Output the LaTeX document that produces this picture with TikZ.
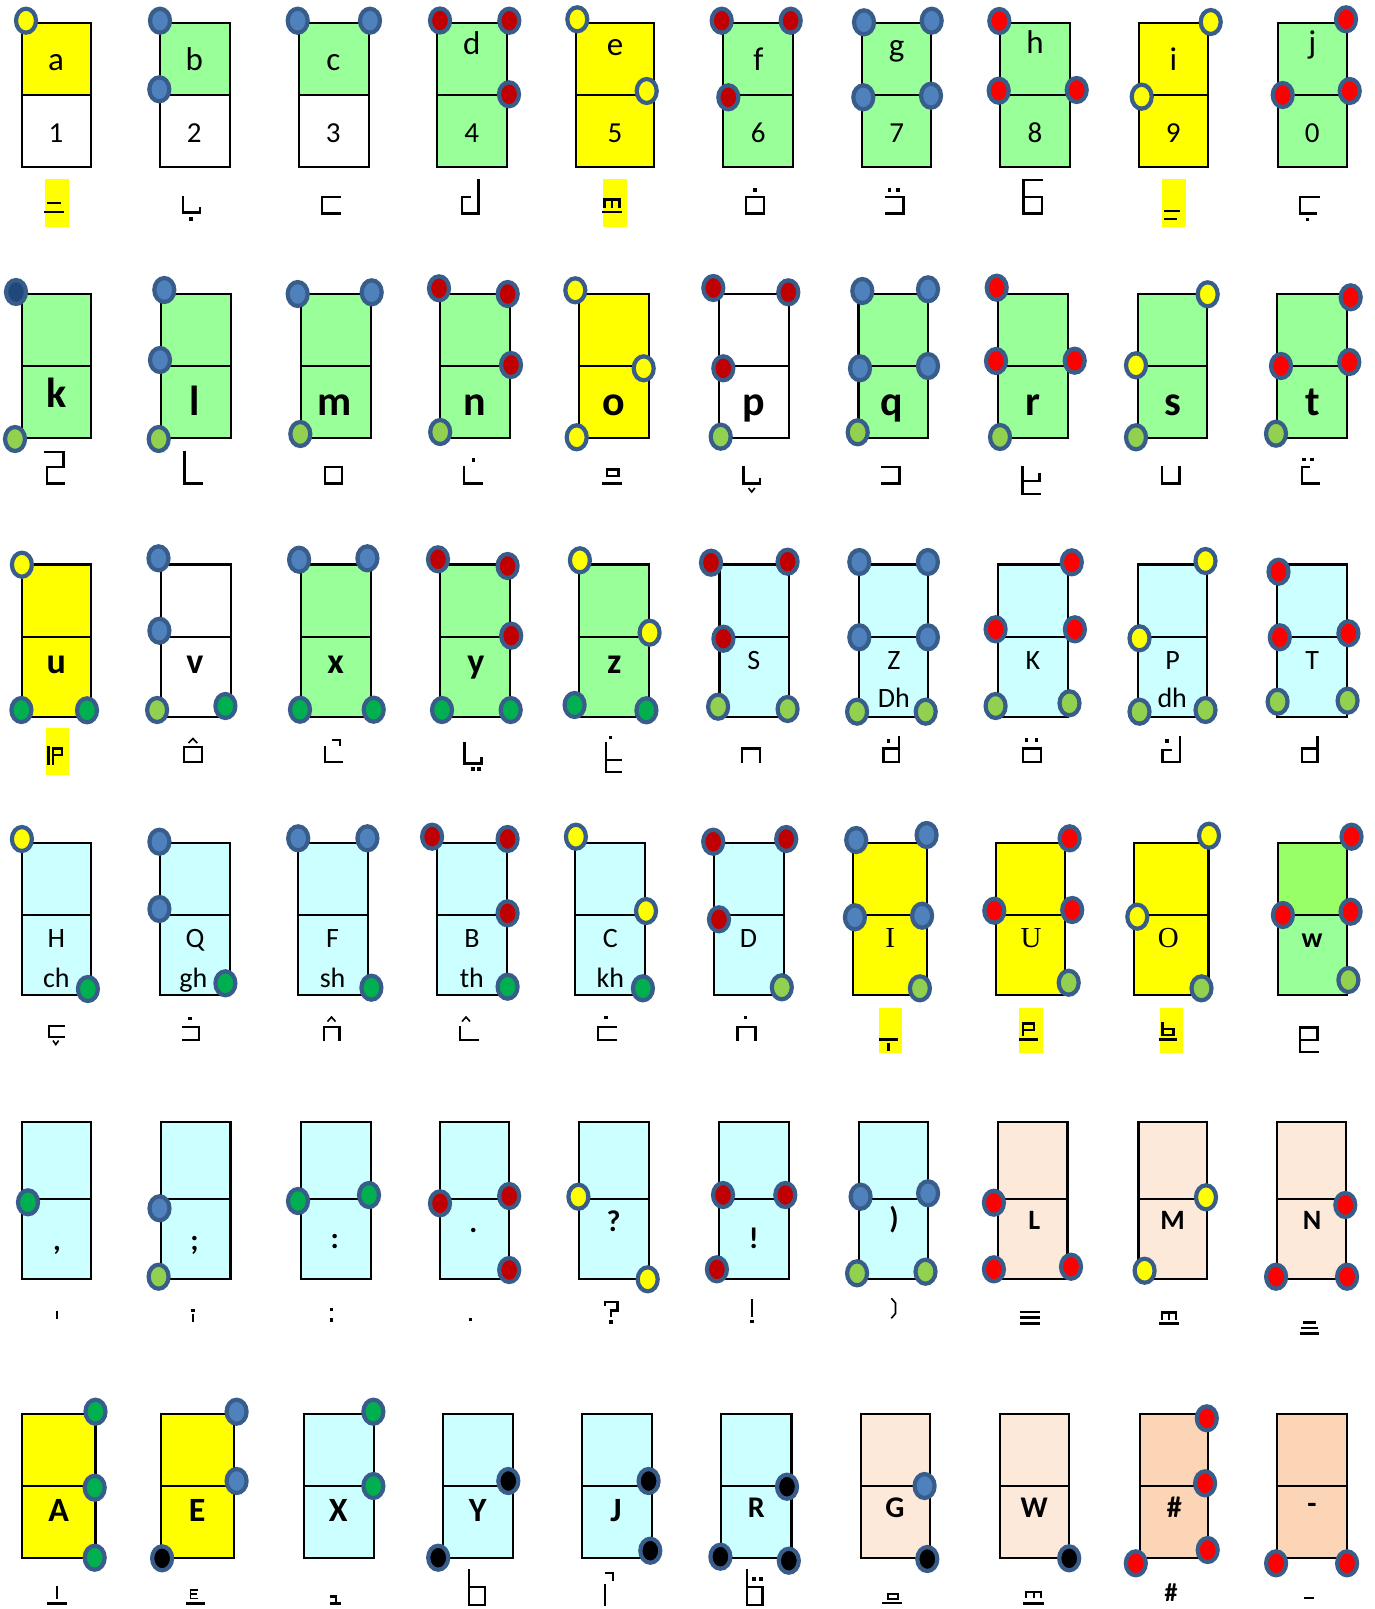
\documentclass[tikz,border=0pt]{standalone}
\usepackage{fontspec}
\setmainfont{Carlito}
\newfontfamily\serfam{Liberation Serif}
\definecolor{fY}{HTML}{FFFF00}
\definecolor{fG}{HTML}{99FF99}
\definecolor{fC}{HTML}{CCFFFF}
\definecolor{fP}{HTML}{FDE9D9}
\definecolor{fPP}{HTML}{FBD5B5}
\definecolor{fW}{HTML}{99FF66}
\definecolor{dY}{HTML}{FFFF00}
\definecolor{dB}{HTML}{4F81BD}
\definecolor{dN}{HTML}{1F497D}
\definecolor{dDR}{HTML}{C00000}
\definecolor{dR}{HTML}{FF0000}
\definecolor{dLG}{HTML}{92D050}
\definecolor{dG}{HTML}{00B050}
\definecolor{dK}{HTML}{000000}
\definecolor{dBorder}{HTML}{385D8A}
\newcommand\cellbx[7]{%
  \fill[#6] (#1,#3) rectangle (#2,#4);
  \fill[#7] (#1,#4) rectangle (#2,#5);
  \draw[boxline] (#1,#3) rectangle (#2,#5);
  \draw[boxline] (#1,#4) -- (#2,#4);}
\newcommand\pdot[3]{\draw[dotline,fill=#3] (#1,#2) ellipse [x radius=10pt,y radius=12pt];}
\newcommand\gdot[2]{\fill ({#1-1.8},{#2-1.8}) rectangle ({#1+1.8},{#2+1.8});}
\newcommand\hilite[4]{\fill[fY] (#1,#2) rectangle (#3,#4);}
\begin{document}
\begin{tikzpicture}[x=1pt,y=-1pt,
  boxline/.style={line width=2.2pt,black},
  dotline/.style={line width=4.2pt,draw=dBorder},
  gl/.style={line width=2.4pt,line cap=rect,black},
  tgl/.style={line width=1.6pt,black},
  lab/.style={anchor=base,inner sep=0pt,text=black},
  rg/.style={font={\fontsize{#1}{#1}\selectfont}},
  bf/.style={font={\fontsize{#1}{#1}\selectfont\bfseries}},
  sf/.style={font={\fontsize{#1}{#1}\selectfont\serfam}}]
\useasboundingbox (0,0) rectangle (1374,1609);
\fill[white] (0,0) rectangle (1374,1609);
% ---------- cells ----------
% row 1
\cellbx{21.7}{91}{22.7}{94.7}{166.7}{fY}{white}
\cellbx{160}{230}{22.7}{94.7}{166.7}{fG}{white}
\cellbx{298.7}{369}{22.7}{94.7}{166.7}{fG}{white}
\cellbx{436.7}{506.7}{22.7}{94.7}{166.7}{fG}{fG}
\cellbx{575.7}{654}{22.7}{94.7}{166.7}{fY}{fY}
\cellbx{722.7}{792.7}{22.7}{94.7}{166.7}{fG}{fG}
\cellbx{861.7}{931}{22.7}{94.7}{166.7}{fG}{fG}
\cellbx{1000}{1070}{22.7}{94.7}{166.7}{fG}{fG}
\cellbx{1138.7}{1208.3}{22.7}{94.7}{166.7}{fY}{fY}
\cellbx{1277.7}{1347}{22.7}{94.7}{166.7}{fG}{fG}
% row 2
\cellbx{21.7}{91}{293.7}{366}{437.7}{fG}{fG}
\cellbx{161}{230.7}{293.7}{366}{437.7}{fG}{fG}
\cellbx{301}{370.7}{293.7}{366}{437.7}{fG}{fG}
\cellbx{440}{510}{293.7}{366}{437.7}{fG}{fG}
\cellbx{579}{649}{293.7}{366}{437.7}{fY}{fY}
\cellbx{718.7}{788.7}{293.7}{366}{437.7}{white}{white}
\cellbx{858.5}{928}{293.7}{366}{437.7}{fG}{fG}
\cellbx{997.7}{1068}{293.7}{366}{437.7}{fG}{fG}
\cellbx{1137.7}{1207}{293.7}{366}{437.7}{fG}{fG}
\cellbx{1276.7}{1347}{293.7}{366}{437.7}{fG}{fG}
% row 3
\cellbx{21.9}{91.1}{564.5}{637}{716.7}{fY}{fY}
\cellbx{160.7}{230.8}{564.5}{637}{716.7}{white}{white}
\cellbx{300.9}{371}{564.5}{637}{716.7}{fG}{fG}
\cellbx{440}{510}{564.5}{637}{716.7}{fG}{fG}
\cellbx{579}{648.7}{564.5}{637}{716.7}{fG}{fG}
\cellbx{719.4}{788.9}{564.5}{637}{716.7}{fC}{fC}
\cellbx{858.8}{927.9}{564.5}{637}{716.7}{fC}{fC}
\cellbx{997.8}{1068.2}{564.5}{637}{716.7}{fC}{fC}
\cellbx{1137.7}{1206.8}{564.5}{637}{716.7}{fC}{fC}
\cellbx{1277.2}{1347.1}{564.5}{637}{716.7}{fC}{fC}
% row 4
\cellbx{21.9}{91.1}{842.7}{915}{994.7}{fC}{fC}
\cellbx{159.8}{229.9}{842.7}{915}{994.7}{fC}{fC}
\cellbx{297.8}{368.3}{842.7}{915}{994.7}{fC}{fC}
\cellbx{437}{506.7}{842.7}{915}{994.7}{fC}{fC}
\cellbx{575}{644.6}{842.7}{915}{994.7}{fC}{fC}
\cellbx{714.1}{784}{842.7}{915}{994.7}{fC}{fC}
\cellbx{852.6}{926.6}{842.7}{915}{994.7}{fY}{fY}
\cellbx{995.6}{1065.1}{842.7}{915}{994.7}{fY}{fY}
\cellbx{1133.7}{1208.5}{842.7}{915}{994.7}{fY}{fY}
\cellbx{1278}{1347}{842.7}{915}{994.7}{fW}{fG}
% row 5
\cellbx{21.9}{91.1}{1121.7}{1198.7}{1278.7}{fC}{fC}
\cellbx{161.3}{230.5}{1121.7}{1198.7}{1278.7}{fC}{fC}
\cellbx{300.6}{370.7}{1121.7}{1198.7}{1278.7}{fC}{fC}
\cellbx{440}{509.2}{1121.7}{1198.7}{1278.7}{fC}{fC}
\cellbx{579.3}{648.6}{1121.7}{1198.7}{1278.7}{fC}{fC}
\cellbx{718.7}{788.8}{1121.7}{1198.7}{1278.7}{fC}{fC}
\cellbx{858.9}{928.1}{1121.7}{1198.7}{1278.7}{fC}{fC}
\cellbx{998.2}{1067.5}{1121.7}{1198.7}{1278.7}{fP}{fP}
\cellbx{1138.5}{1206.8}{1121.7}{1198.7}{1278.7}{fP}{fP}
\cellbx{1277}{1346.2}{1121.7}{1198.7}{1278.7}{fP}{fP}
% row 6
\cellbx{21.9}{95.5}{1413.7}{1486}{1558}{fY}{fY}
\cellbx{161.3}{234}{1413.7}{1486}{1558}{fY}{fY}
\cellbx{304.1}{374.2}{1413.7}{1486}{1558}{fC}{fC}
\cellbx{442.6}{512.7}{1413.7}{1486}{1558}{fC}{fC}
\cellbx{582}{652}{1413.7}{1486}{1558}{fC}{fC}
\cellbx{721.3}{791.4}{1413.7}{1486}{1558}{fC}{fC}
\cellbx{860.6}{929.9}{1413.7}{1486}{1558}{fP}{fP}
\cellbx{1000}{1069.2}{1413.7}{1486}{1558}{fP}{fP}
\cellbx{1140.2}{1207.7}{1413.7}{1486}{1558}{fPP}{fPP}
\cellbx{1277}{1347}{1413.7}{1486}{1558}{fPP}{fPP}
% ---------- labels ----------
% row 1
\node[lab,rg=33] (ta) at (56,70.7) {a};
\node[lab,rg=33] (tb) at (194.3,70.7) {b};
\node[lab,rg=33] (tc) at (333.3,70.7) {c};
\node[lab,rg=33] (td) at (471.7,54) {d};
\node[lab,rg=33] (te) at (615,55) {e};
\node[lab,rg=33] (tf) at (758.3,70) {f};
\node[lab,rg=33] (tg) at (896.7,56) {g};
\node[lab,rg=33] (th) at (1035,53.3) {h};
\node[lab,rg=33] (ti) at (1173.3,70) {i};
\node[lab,rg=33] (tj) at (1312.3,53.3) {j};
\node[lab,rg=29] (t1) at (56,142.7) {1};
\node[lab,rg=29] (t2) at (194.3,142.7) {2};
\node[lab,rg=29] (t3) at (333.3,142.7) {3};
\node[lab,rg=29] (t4) at (471.7,142.7) {4};
\node[lab,rg=29] (t5) at (615,142.7) {5};
\node[lab,rg=29] (t6) at (758.3,142.7) {6};
\node[lab,rg=29] (t7) at (896.7,142.7) {7};
\node[lab,rg=29] (t8) at (1035,142.7) {8};
\node[lab,rg=29] (t9) at (1173.3,142.7) {9};
\node[lab,rg=29] (t0) at (1312.3,142.7) {0};
% row 2
\node[lab,bf=42] (tk) at (56.7,407.3) {k};
\node[lab,bf=42] (tl) at (195,415) {l};
\node[lab,bf=42] (tm) at (335,415) {m};
\node[lab,bf=42] (tn) at (475,415) {n};
\node[lab,bf=42] (to) at (614,415) {o};
\node[lab,bf=42] (tp) at (754,415) {p};
\node[lab,bf=42] (tq) at (891.7,415) {q};
\node[lab,bf=42] (tr) at (1033.3,415) {r};
\node[lab,bf=42] (ts) at (1172.7,415) {s};
\node[lab,bf=42] (tt) at (1312.3,415) {t};
% row 3
\node[lab,bf=36] (tu) at (56.3,673.3) {u};
\node[lab,bf=36] (tv) at (195,673.3) {v};
\node[lab,bf=36] (tx) at (335.7,673.3) {x};
\node[lab,bf=36] (ty) at (475.9,673.3) {y};
\node[lab,bf=36] (tz) at (614.3,673.3) {z};
\node[lab,rg=28] (tS) at (753.9,669) {S};
\node[lab,rg=28] (tZ) at (893.8,669) {Z};
\node[lab,rg=28] (tDh) at (893.8,707.5) {Dh};
\node[lab,rg=28] (tK) at (1032.8,669) {K};
\node[lab,rg=28] (tP) at (1172.7,669) {P};
\node[lab,rg=28] (tdh) at (1172.2,707.5) {dh};
\node[lab,rg=28] (tT) at (1312.1,669) {T};
% row 4
\node[lab,rg=28] (tH) at (56.3,947) {H};
\node[lab,rg=28] (tch) at (56.3,987) {ch};
\node[lab,rg=28] (tQ) at (195,947) {Q};
\node[lab,rg=28] (tgh) at (193.3,987) {gh};
\node[lab,rg=28] (tF) at (332.6,947) {F};
\node[lab,rg=28] (tsh) at (332.6,987) {sh};
\node[lab,rg=28] (tB) at (471.9,947) {B};
\node[lab,rg=28] (tth) at (471.9,987) {th};
\node[lab,rg=28] (tC) at (610.3,947) {C};
\node[lab,rg=28] (tkh) at (610.3,987) {kh};
\node[lab,rg=28] (tD) at (748.6,947) {D};
\node[lab,sf=29] (tI) at (890.3,947) {I};
\node[lab,sf=29] (tU) at (1031,947) {U};
\node[lab,sf=29] (tO) at (1168.3,947) {O};
\node[lab,bf=28] (tw) at (1312.1,947) {w};
% row 5
\node[lab,bf=30] (tcomma) at (57,1250) {,};
\node[lab,bf=30] (tsemi) at (194.6,1250) {;};
\node[lab,bf=30] (tcolon) at (334.8,1248) {:};
\node[lab,bf=30] (tdot) at (473.3,1232) {.};
\node[lab,bf=30] (tques) at (613.5,1231) {?};
\node[lab,bf=30] (texcl) at (753.7,1248) {!};
\node[lab,bf=30] (tparen) at (894,1228) {)};
\node[lab,bf=28] (tL) at (1034.2,1229.5) {L};
\node[lab,bf=28] (tM) at (1172.7,1229.5) {M};
\node[lab,bf=28] (tN) at (1312,1229.5) {N};
% row 6
\node[lab,bf=34] (tA) at (58.7,1521.5) {A};
\node[lab,bf=34] (tE) at (197.2,1521.5) {E};
\node[lab,bf=34] (tX) at (338.3,1521.5) {X};
\node[lab,bf=34] (tY) at (477.7,1521.5) {Y};
\node[lab,bf=34] (tJ) at (616.1,1521.5) {J};
\node[lab,bf=30] (tR) at (756.4,1517) {R};
\node[lab,bf=30] (tG) at (894.8,1517) {G};
\node[lab,bf=30] (tW) at (1034.2,1517) {W};
\node[lab,bf=30] (thash) at (1174.4,1517) {\#};
\node[lab,bf=30] (tminus) at (1312,1513) {-};
% ---------- dots ----------
% row 1
\pdot{26}{20.7}{dY}
\pdot{160}{20.7}{dB} \pdot{159.3}{89.3}{dB}
\pdot{297.7}{20.7}{dB} \pdot{370}{20.7}{dB}
\pdot{440}{20.5}{dDR} \pdot{509.3}{20.7}{dDR} \pdot{509}{94.3}{dDR}
\pdot{577.3}{19.3}{dY} \pdot{646.7}{91}{dY}
\pdot{721.7}{20.7}{dDR} \pdot{790.7}{20.7}{dDR} \pdot{728.3}{97.3}{dDR}
\pdot{864}{22.3}{dB} \pdot{863.3}{97.3}{dB} \pdot{931.7}{20.7}{dB} \pdot{931}{95.7}{dB}
\pdot{999.3}{21}{dR} \pdot{998.7}{90.7}{dR} \pdot{1076.7}{90}{dR}
\pdot{1210.7}{22}{dY} \pdot{1141.7}{96.7}{dY}
\pdot{1346}{19.3}{dR} \pdot{1282.7}{95}{dR} \pdot{1349.7}{91}{dR}
% row 2
\pdot{16}{292}{dN} \pdot{15}{439}{dLG}
\pdot{164.3}{290}{dB} \pdot{160}{360}{dB} \pdot{158.7}{439}{dLG}
\pdot{297.7}{294}{dB} \pdot{371.7}{292.3}{dB} \pdot{300.3}{434}{dLG}
\pdot{439}{288.3}{dDR} \pdot{507.7}{294}{dDR} \pdot{511}{365}{dDR} \pdot{440.2}{432}{dLG}
\pdot{575.3}{290.3}{dY} \pdot{643.7}{368.3}{dY} \pdot{576.7}{437.3}{dY}
\pdot{713.3}{288}{dDR} \pdot{788.3}{292.3}{dDR} \pdot{723.3}{368.3}{dDR} \pdot{720.7}{436.7}{dLG}
\pdot{862.3}{291}{dB} \pdot{928}{289.3}{dB} \pdot{860}{368.3}{dB} \pdot{928}{366}{dB} \pdot{857.7}{432.3}{dLG}
\pdot{996.7}{287.7}{dR} \pdot{996}{361}{dR} \pdot{1074.7}{360.7}{dR} \pdot{1000}{437}{dLG}
\pdot{1207.7}{294.3}{dY} \pdot{1136}{365.3}{dY} \pdot{1136}{437.3}{dLG}
\pdot{1350.7}{297.3}{dR} \pdot{1281}{366}{dR} \pdot{1349.3}{362}{dR} \pdot{1276}{433.7}{dLG}
% row 3
\pdot{21.9}{564.7}{dY} \pdot{21.4}{710}{dG} \pdot{87}{710.3}{dG}
\pdot{158.5}{558.3}{dB} \pdot{159.4}{630.7}{dB} \pdot{157.1}{710}{dLG} \pdot{225.4}{706}{dG}
\pdot{299.1}{559.7}{dB} \pdot{367.4}{558.3}{dB} \pdot{300}{709.7}{dG} \pdot{373.7}{709.7}{dG}
\pdot{438}{559.3}{dDR} \pdot{507.6}{566}{dDR} \pdot{511.2}{635.7}{dDR} \pdot{442}{710}{dG} \pdot{510.7}{710}{dG}
\pdot{579.9}{560.3}{dY} \pdot{649.6}{632.7}{dY} \pdot{574.6}{705}{dG} \pdot{646.4}{710.3}{dG}
\pdot{711}{562.7}{dDR} \pdot{787.6}{561.7}{dDR} \pdot{723.4}{638.7}{dDR} \pdot{718.1}{706.7}{dLG} \pdot{787.6}{709}{dLG}
\pdot{859.3}{562}{dB} \pdot{927.9}{562}{dB} \pdot{859.3}{637.3}{dB} \pdot{927.9}{637.3}{dB} \pdot{857.1}{711.7}{dLG} \pdot{925.7}{711.7}{dLG}
\pdot{1071.8}{562.3}{dR} \pdot{995.6}{629.3}{dR} \pdot{1074.9}{629.3}{dR} \pdot{995.6}{706}{dLG} \pdot{1069.5}{703.3}{dLG}
\pdot{1205.5}{561}{dY} \pdot{1139.5}{638.3}{dY} \pdot{1139.5}{711.7}{dLG} \pdot{1205.5}{710}{dLG}
\pdot{1278.5}{571.7}{dR} \pdot{1279.8}{637.3}{dR} \pdot{1348.4}{633.3}{dR} \pdot{1277.6}{701.7}{dLG} \pdot{1347.6}{700.7}{dLG}
% row 4
\pdot{21.9}{839}{dY} \pdot{87.9}{989}{dG}
\pdot{159.4}{841.7}{dB} \pdot{159.4}{909}{dB} \pdot{225.4}{983.3}{dG}
\pdot{298.2}{838.3}{dB} \pdot{367.4}{838.3}{dB} \pdot{371.4}{987.7}{dG}
\pdot{432.1}{836.7}{dDR} \pdot{507.6}{839}{dDR} \pdot{507.6}{913.3}{dDR} \pdot{507.6}{986.7}{dG}
\pdot{575.9}{836.7}{dY} \pdot{646}{911}{dY} \pdot{642.9}{988.3}{dG}
\pdot{713.2}{841.7}{dDR} \pdot{786.2}{839}{dDR} \pdot{719}{919.3}{dDR} \pdot{781.8}{987.3}{dLG}
\pdot{856.2}{840}{dB} \pdot{926.6}{835}{dB} \pdot{854.9}{917.3}{dB} \pdot{922.1}{915.7}{dB} \pdot{919.9}{988.3}{dLG}
\pdot{1069.6}{838.3}{dR} \pdot{994.3}{910.7}{dR} \pdot{1072.2}{910}{dR} \pdot{1068.7}{982.7}{dLG}
\pdot{1209}{835.7}{dY} \pdot{1137.3}{916.7}{dY} \pdot{1201.5}{988.3}{dLG}
\pdot{1351.5}{836.7}{dR} \pdot{1282.9}{915}{dR} \pdot{1350.6}{911.7}{dR} \pdot{1348.4}{980}{dLG}
% row 5
\pdot{28}{1202.3}{dG}
\pdot{159.5}{1208.3}{dB} \pdot{158.6}{1276.7}{dLG}
\pdot{298}{1201}{dG} \pdot{369}{1195}{dG}
\pdot{440}{1203.3}{dDR} \pdot{509.2}{1196}{dDR} \pdot{509.2}{1270}{dDR}
\pdot{578.4}{1196.7}{dY} \pdot{647.7}{1279.3}{dY}
\pdot{723}{1195}{dDR} \pdot{785.3}{1195}{dDR} \pdot{716.9}{1269.3}{dDR}
\pdot{860.6}{1196.7}{dB} \pdot{928.1}{1193.3}{dB} \pdot{857.1}{1273.3}{dLG} \pdot{925.5}{1271.7}{dLG}
\pdot{993.9}{1202.7}{dR} \pdot{993.9}{1269.3}{dR} \pdot{1071}{1266.7}{dR}
\pdot{1206}{1197.3}{dY} \pdot{1144.6}{1270.7}{dY}
\pdot{1345.3}{1205}{dR} \pdot{1276.1}{1276.7}{dR} \pdot{1347.1}{1276.7}{dR}
% row 6
\pdot{95.5}{1411.7}{dG} \pdot{94.7}{1487.7}{dG} \pdot{94.7}{1557.7}{dG}
\pdot{236.6}{1411.7}{dB} \pdot{236.6}{1481}{dB} \pdot{162.1}{1558.3}{dK}
\pdot{373.4}{1411.7}{dG} \pdot{373.4}{1486}{dG}
\pdot{508.3}{1481}{dK} \pdot{438.2}{1557.7}{dK}
\pdot{648.6}{1481}{dK} \pdot{650.3}{1550.7}{dK}
\pdot{787}{1486.7}{dK} \pdot{720.4}{1556.7}{dK} \pdot{788.8}{1560.7}{dK}
\pdot{924.6}{1486}{dB} \pdot{927.3}{1559}{dK}
\pdot{1069.2}{1558.3}{dK}
\pdot{1206.8}{1418.3}{dR} \pdot{1205.1}{1483.3}{dR} \pdot{1207.7}{1550}{dR} \pdot{1135.8}{1563.3}{dR}
\pdot{1276.1}{1563.3}{dR} \pdot{1347.1}{1563.3}{dR}
% ---------- glyphs ----------
% row 1
\hilite{45}{179}{69}{226.7}
\draw[gl] (48,203)--(60,203) (45.5,211.7)--(63,211.7);
\draw[gl] (182.7,196.7)--(182.7,212.3)--(200,212.3)--(200,208.5); \gdot{190.7}{219}
\draw[gl] (340,196.7)--(321.7,196.7)--(321.7,213.3)--(340,213.3);
\draw[gl] (470,196.7)--(461.7,196.7)--(461.7,213.3)--(478.3,213.3)--(478.3,180);
\hilite{603}{179}{627}{226.7}
\draw[gl] (604.5,206.5)--(604.5,199.5)--(619.5,199.5)--(619.5,206.5) (612,199.5)--(612,206.5) (603.5,211.7)--(621,211.7);
\draw[gl] (746,196.7) rectangle (764,213.3); \gdot{755}{190}
\draw[gl] (886,196.7)--(903.3,196.7)--(903.3,213.3)--(886,213.3); \gdot{889.5}{190} \gdot{898}{190}
\draw[gl] (1041.7,180)--(1023.3,180)--(1023.3,213.3)--(1041.7,213.3)--(1041.7,196.7)--(1023.3,196.7);
\hilite{1162.3}{179}{1185.7}{226.7}
\draw[tgl] (1164,210.7)--(1180,210.7); \draw[gl] (1165,219)--(1176,219);
\draw[gl] (1318.3,196.7)--(1300,196.7)--(1300,213.3)--(1316,213.3); \gdot{1307.5}{219.5}
% row 2
\draw[gl] (45,451.7)--(63.3,451.7)--(63.3,466.7)--(46.7,466.7)--(46.7,483.3)--(63.3,483.3);
\draw[gl] (184.3,451.7)--(184.3,483.3)--(201.7,483.3);
\draw[gl] (325,466.7) rectangle (341.7,483.3);
\draw[gl] (464,466.7)--(464,483.3)--(481.7,483.3); \gdot{473.3}{460}
\draw[gl] (606.7,469.3) rectangle (618.3,476); \draw[gl] (603.3,483.3)--(620.7,483.3);
\draw[gl] (743.3,466.7)--(743.3,483.3)--(760,483.3)--(760,479); \draw[tgl] (748.5,488)--(751.7,492)--(754.9,488);
\draw[gl] (881.7,466.7)--(899.3,466.7)--(899.3,483.3)--(881.7,483.3);
\draw[gl] (1022.3,466.7)--(1022.3,494)--(1039.3,494) (1022.3,480.7)--(1039.3,480.7)--(1039.3,474);
\draw[gl] (1161.7,466.7)--(1161.7,483.3)--(1179.3,483.3)--(1179.3,466.7);
\draw[gl] (1309,466.7)--(1301.7,466.7)--(1301.7,483.3)--(1318.3,483.3); \gdot{1304}{459.5} \gdot{1312}{459.5}
% row 3
\hilite{45.5}{728.3}{69.2}{775}
\draw[gl] (48.5,746.7)--(48.5,763.3); \draw[gl] (53,763.3)--(53,748.3)--(62,748.3)--(62,755)--(53,755);
\draw[gl] (183.9,746.7) rectangle (201.8,761.7); \draw[tgl] (188.5,743)--(192.9,738.5)--(197.3,743);
\draw[gl] (325,746.7)--(325,761.7)--(341.5,761.7) (333,740)--(340,740)--(340,744.5);
\draw[gl] (464.3,743.3)--(464.3,763.3)--(481.3,763.3)--(481.3,758.5); \gdot{473}{769} \gdot{479}{769}
\draw[gl] (605.8,743.3)--(605.8,772) (605.8,760)--(620.5,760) (605.8,772)--(620.5,772); \gdot{610.5}{737.5}
\draw[gl] (742,761.7)--(742,748.3)--(759.7,748.3)--(759.7,761.7);
\draw[gl] (899.1,736.7)--(899.1,761.7)--(883.6,761.7)--(883.6,748.3)--(899.1,748.3); \gdot{888.5}{741}
\draw[gl] (1023,748.3) rectangle (1040.8,761.7); \gdot{1026.5}{740} \gdot{1036.5}{740}
\draw[gl] (1180.2,736.7)--(1180.2,761.7)--(1162.5,761.7)--(1162.5,750)--(1171,750); \gdot{1167}{741}
\draw[gl] (1317.4,736.7)--(1317.4,761.7)--(1302,761.7)--(1302,748.3)--(1317.4,748.3);
% row 4
\draw[gl] (63.8,1026)--(49.1,1026)--(49.1,1036.7)--(63.8,1036.7); \draw[tgl] (53,1040.5)--(55.8,1044.5)--(58.6,1040.5);
\draw[gl] (183,1026.7)--(198.7,1026.7)--(198.7,1040)--(183,1040); \gdot{189.7}{1018.5}
\draw[gl] (323.7,1040)--(323.7,1026.7)--(339.3,1026.7)--(339.3,1040); \draw[tgl] (327.5,1021.5)--(331.5,1017)--(335.5,1021.5);
\draw[gl] (459.8,1026.7)--(459.8,1040)--(477.7,1040); \draw[tgl] (462,1021.5)--(466,1017)--(470,1021.5);
\draw[gl] (616,1026.7)--(598.2,1026.7)--(598.2,1040)--(616,1040); \gdot{605.8}{1017.5}
\draw[gl] (737.5,1040)--(737.5,1026.7)--(755.3,1026.7)--(755.3,1040); \gdot{745.5}{1017.5}
\hilite{879}{1008}{902}{1053}
\draw[gl] (880,1039.3)--(897,1039.3) (888.5,1044)--(888.5,1050);
\hilite{1019}{1008}{1042.5}{1053}
\draw[gl] (1023,1035)--(1023,1023.3)--(1034,1023.3)--(1034,1030)--(1023,1030) (1020.5,1039.3)--(1037,1039.3);
\hilite{1159.5}{1008}{1183}{1053}
\draw[gl] (1162.5,1023.3)--(1162.5,1035)--(1173.6,1035)--(1173.6,1029)--(1162.5,1029) (1160.5,1039.3)--(1176,1039.3);
\draw[gl] (1299.7,1052)--(1299.7,1027.3)--(1317.4,1027.3)--(1317.4,1040)--(1299.7,1040) (1299.7,1052)--(1317.4,1052);
% row 5
\draw[gl] (57,1312)--(57,1317.5);
\gdot{192.8}{1310.5} \draw[gl] (192.8,1315.5)--(192.8,1320.5);
\gdot{331.3}{1309.5} \gdot{331.3}{1320}
\gdot{470.6}{1319.5}
\draw[gl] (605,1305)--(605,1302)--(617.5,1302)--(617.5,1310.5)--(611,1310.5)--(611,1316); \gdot{611}{1322}
\draw[gl] (752,1300)--(752,1315.5); \gdot{752}{1321.5}
\draw[tgl] (891.3,1298.3)--(895.5,1303)--(895.5,1313.5)--(891.3,1318.3);
\draw[gl] (1021,1311.7)--(1038.5,1311.7) (1021,1317.3)--(1038.5,1317.3) (1021,1323.3)--(1038.5,1323.3);
\draw[gl] (1162,1318.5)--(1162,1312.5)--(1176,1312.5)--(1176,1318.5) (1169,1312.5)--(1169,1318.5) (1160,1323.3)--(1178,1323.3);
\draw[gl] (1304,1322.5)--(1315,1322.5) (1302,1328)--(1317,1328) (1301,1333.5)--(1318,1333.5);
% row 6
\draw[gl] (57,1587)--(57,1598) (48.2,1603.3)--(65.7,1603.3);
\draw[tgl] (198,1590)--(190.5,1590)--(190.5,1598.3)--(198,1598.3) (190.5,1594.2)--(196.5,1594.2); \draw[gl] (186.7,1603.3)--(204.2,1603.3);
\draw[gl] (331.5,1596.5)--(336,1596.5)--(336,1603.3) (331.5,1603.3)--(340,1603.3);
\draw[gl] (469,1570)--(469,1605)--(484.7,1605)--(484.7,1586.7)--(469,1586.7);
\draw[gl] (606,1573)--(613,1573)--(613,1580); \draw[gl] (604.7,1585)--(604.7,1605);
\draw[gl] (746.7,1570)--(746.7,1605)--(762.5,1605)--(762.5,1586.7)--(746.7,1586.7); \gdot{754}{1579} \gdot{761}{1579}
\draw[line width=2pt] (888,1593.5) rectangle (897.5,1598.5); \draw[gl] (883.4,1603)--(901,1603);
\draw[line width=2pt] (1026,1597.5)--(1026,1591.7)--(1041,1591.7)--(1041,1597.5) (1033.5,1591.7)--(1033.5,1597.5); \draw[gl] (1024,1603.3)--(1043,1603.3);
\node[lab,bf=26] (ghash) at (1171,1601) {\#};
\draw[gl] (1305,1598)--(1313,1598);
\end{tikzpicture}
\end{document}
